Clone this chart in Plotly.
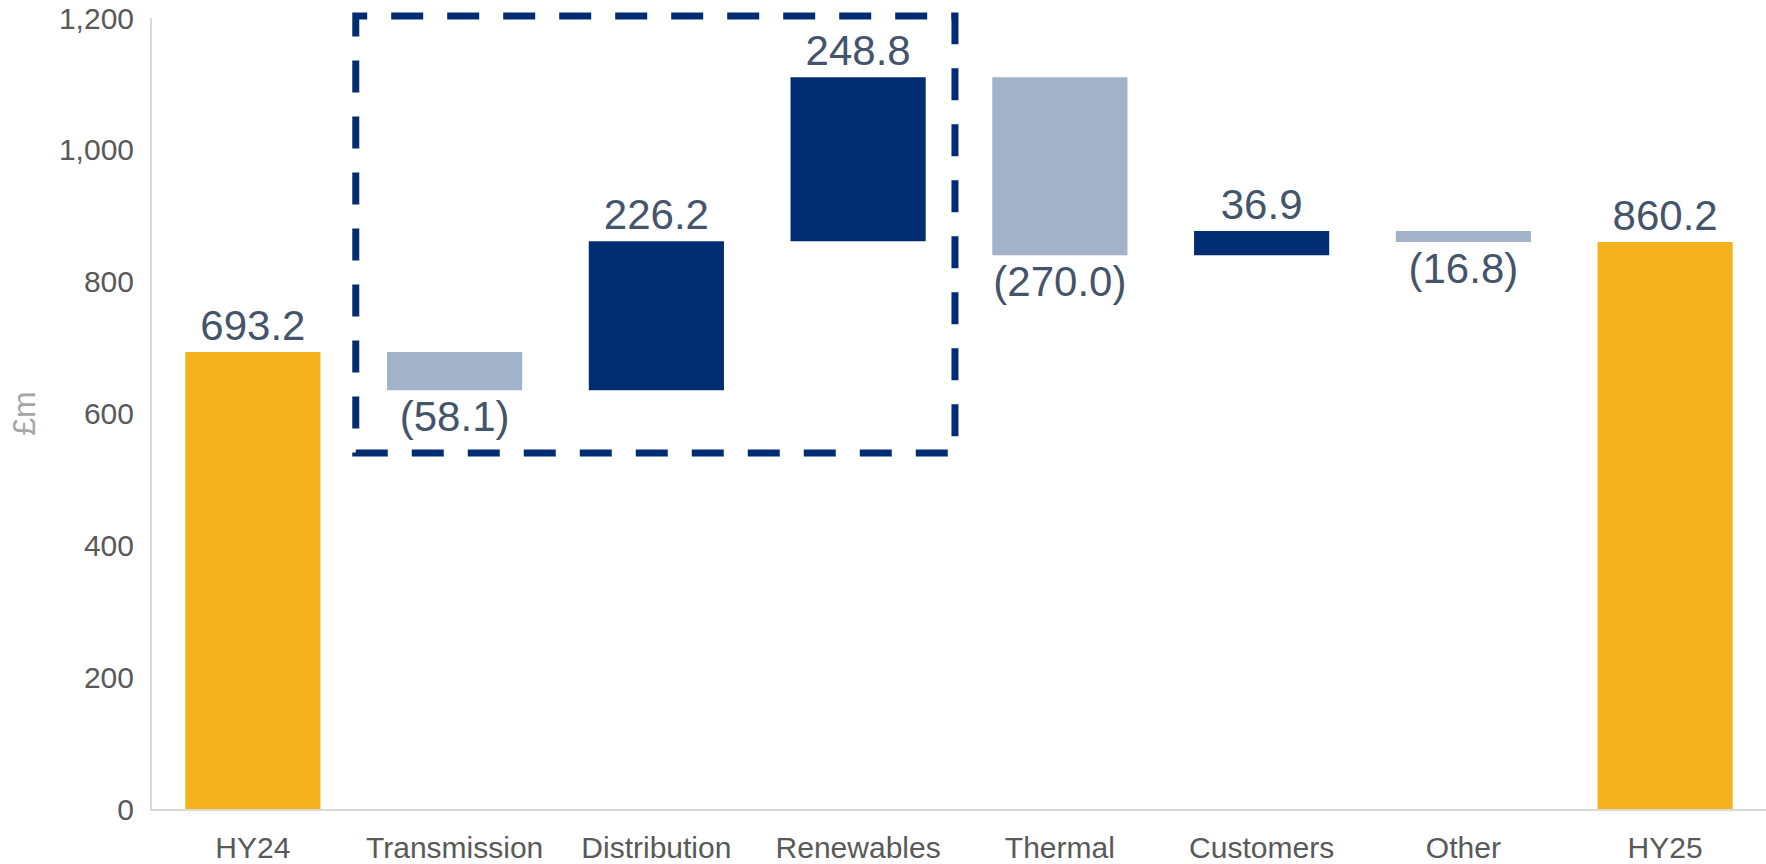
import plotly.graph_objects as go

# Half-year operating profit bridge (£m)
categories = ["HY24", "Transmission", "Distribution", "Renewables",
              "Thermal", "Customers", "Other", "HY25"]
measures = ["absolute", "relative", "relative", "relative",
            "relative", "relative", "relative", "total"]
values = [693.2, -58.1, 226.2, 248.8, -270.0, 36.9, -16.8, 0]
y_ticks = [0, 200, 400, 600, 800, 1000, 1200]

NAVY = "#002D72"
GREY_BLUE = "#A2B2C8"
GOLD = "#F4B21C"
LABEL = "#44546A"
TICK = "#595959"
FONT = "Liberation Sans, Arial, sans-serif"


def fmt(v):
    return f"({abs(v):,.1f})" if v < 0 else f"{v:,.1f}"


# labels: running total for the closing bar, the step for the others
labels = []
running = 0.0
for m, v in zip(measures, values):
    if m == "total":
        labels.append(fmt(running))
    else:
        running = v if m == "absolute" else running + v
        labels.append(fmt(v))

fig = go.Figure(go.Waterfall(
    x=categories,
    y=values,
    measure=measures,
    text=labels,
    textposition="outside",
    textfont=dict(size=42, color=LABEL, family=FONT),
    cliponaxis=False,
    increasing=dict(marker=dict(color=NAVY)),
    decreasing=dict(marker=dict(color=GREY_BLUE)),
    totals=dict(marker=dict(color=GOLD)),
    connector=dict(visible=False),
    hoverinfo="skip",
))

# dashed frame around the network and renewables steps
fig.add_shape(
    type="rect", xref="x", yref="paper",
    x0=0.51, x1=3.48, y0=0.450, y1=1.0025,
    line=dict(color=NAVY, width=7, dash="32px,24px"),
    fillcolor="rgba(0,0,0,0)", layer="above",
)

fig.update_layout(
    width=1766, height=864,
    margin=dict(l=152, r=0, t=18, b=53),
    paper_bgcolor="white", plot_bgcolor="white",
    showlegend=False,
    waterfallgap=0.33,
    font=dict(family=FONT, color=TICK),
    xaxis=dict(
        type="category",
        showline=True, linecolor="#D9D9D9", linewidth=2,
        showgrid=False, ticks="",
        tickfont=dict(size=30, color=TICK, family=FONT),
        ticklabelstandoff=11,
    ),
    yaxis=dict(
        range=[0, 1200],
        tickvals=y_ticks,
        tickformat=",",
        showline=True, linecolor="#D9D9D9", linewidth=2,
        showgrid=False, zeroline=False, ticks="",
        tickfont=dict(size=30, color=TICK, family=FONT),
        ticklabelstandoff=10,
        title=dict(text="£m", font=dict(size=32, color="#A6A6A6", family=FONT),
                   standoff=14),
    ),
)

fig.write_html("out.html")
